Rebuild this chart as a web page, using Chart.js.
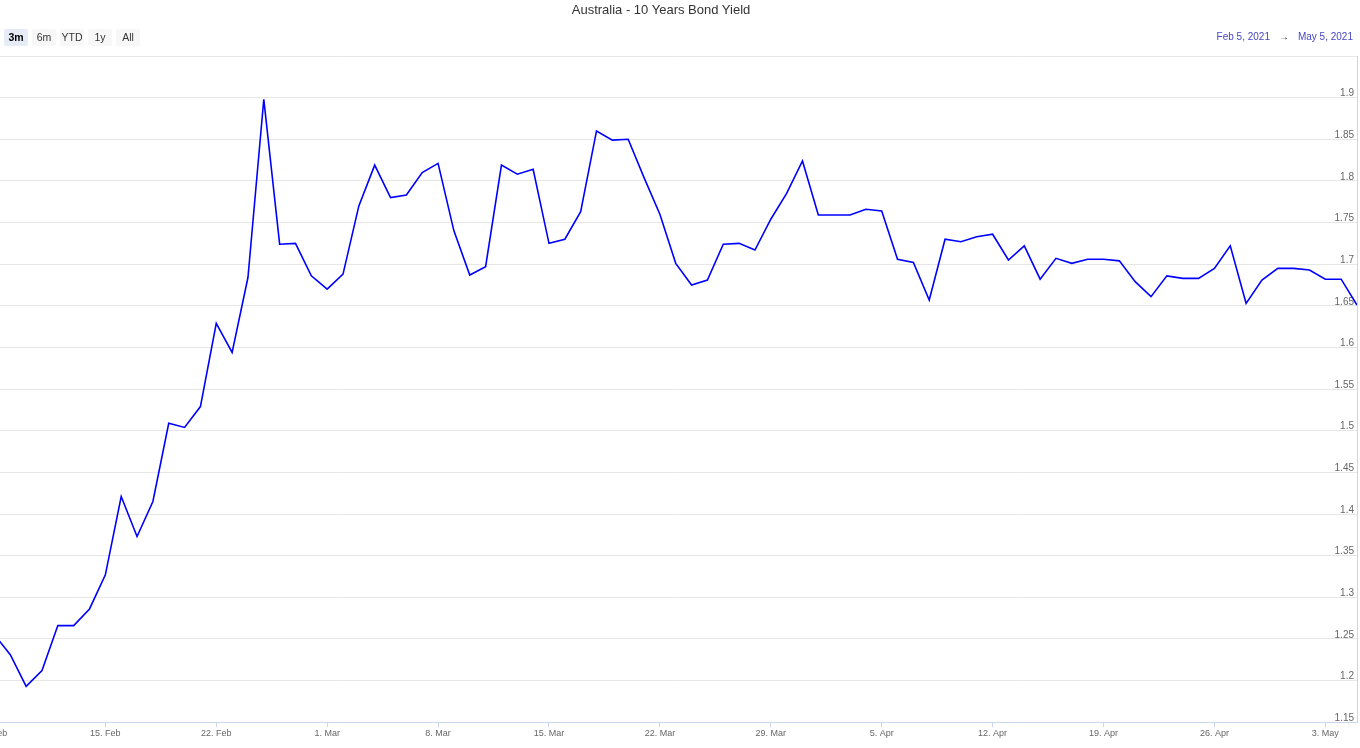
<!DOCTYPE html>
<html>
<head>
<meta charset="utf-8">
<title>Australia - 10 Years Bond Yield</title>
<script src="https://cdn.jsdelivr.net/npm/chart.js@4"></script>
<style>
  html, body { margin: 0; padding: 0; background: #fff; }
  body { width: 1360px; height: 748px; position: relative; overflow: hidden; font-family: "Liberation Sans", Arial, sans-serif; }
  #wrap { position: absolute; left: 0; top: 0; width: 1360px; height: 748px; }
  .title { position: absolute; left: 561px; width: 200px; top: 2px; text-align: center; font-size: 13px; color: #333; white-space: nowrap; }
  .ranges { position: absolute; left: 4px; top: 29px; display: flex; gap: 4px; }
  .ranges span { display: block; width: 24px; height: 17px; line-height: 17px; text-align: center; font-size: 10.5px; color: #333; background: #f7f7f7; border-radius: 2px; }
  .ranges span.on { background: #e6ebf5; color: #000; font-weight: bold; }
  .dates { position: absolute; right: 7px; top: 31px; font-size: 10px; color: #4646c4; white-space: nowrap; }
  .dates .arrow { color: #333; margin: 0 9px; }
</style>
</head>
<body>
<div id="wrap"><canvas id="chart"></canvas></div>
<div class="title" id="title"></div>
<div class="ranges">
  <span class="on">3m</span><span>6m</span><span>YTD</span><span>1y</span><span>All</span>
</div>
<div class="dates">Feb 5, 2021<span class="arrow">→</span>May 5, 2021</div>
<script>
const chartTitle = "Australia - 10 Years Bond Yield"

// one value per day, starting 8 Feb 2021 (index 0) up to 5 May 2021
const startDate = "2021-02-08"
const yields = [
  1.255, 1.231, 1.193, 1.212, 1.266, 1.266, 1.286,          // 8-14 Feb
  1.327, 1.421, 1.373, 1.415, 1.509, 1.504, 1.529,          // 15-21 Feb
  1.629, 1.594, 1.684, 1.898, 1.724, 1.725, 1.686,          // 22-28 Feb
  1.670, 1.688, 1.770, 1.819, 1.780, 1.783, 1.810,          // 1-7 Mar
  1.821, 1.740, 1.687, 1.697, 1.819, 1.808, 1.814,          // 8-14 Mar
  1.725, 1.730, 1.763, 1.860, 1.849, 1.850, 1.804,          // 15-21 Mar
  1.760, 1.701, 1.675, 1.681, 1.724, 1.725, 1.717,          // 22-28 Mar
  1.754, 1.785, 1.824, 1.759, 1.759, 1.759, 1.766,          // 29 Mar-4 Apr
  1.764, 1.706, 1.702, 1.657, 1.730, 1.727, 1.733,          // 5-11 Apr
  1.736, 1.705, 1.722, 1.682, 1.707, 1.701, 1.706,          // 12-18 Apr
  1.706, 1.704, 1.679, 1.661, 1.686, 1.683, 1.683,          // 19-25 Apr
  1.695, 1.722, 1.653, 1.681, 1.695, 1.695, 1.693,          // 26 Apr-2 May
  1.682, 1.682, 1.651                                       // 3-5 May
]

// weekly tick labels, on the Mondays (every 7th day from startDate)
const xTickLabels = ["8. Feb", "15. Feb", "22. Feb", "1. Mar", "8. Mar", "15. Mar", "22. Mar",
  "29. Mar", "5. Apr", "12. Apr", "19. Apr", "26. Apr", "3. May"]

const yMin = 1.15
const yMax = 1.95
const yStep = 0.05

document.getElementById("title").textContent = chartTitle

const points = yields.map((v, i) => ({ x: i, y: v }))

const ctx = document.getElementById("chart").getContext("2d")
const myChart = new Chart(ctx, {
  type: "line",
  data: {
    datasets: [
      {
        label: chartTitle,
        data: points,
        borderColor: "#0000ff",
        borderWidth: 1.6,
        pointRadius: 0,
        tension: 0,
        fill: false,
      },
    ],
  },
  options: {
    responsive: true,
    maintainAspectRatio: false,
    animation: false,
    layout: { padding: { top: 56, right: 3, bottom: 8, left: 0 } },
    plugins: {
      legend: { display: false },
      tooltip: { enabled: false },
      title: { display: false },
    },
    scales: {
      x: {
        type: "linear",
        min: 0.35,
        max: yields.length - 1,
        afterBuildTicks: (s) => { s.ticks = xTickLabels.map((l, i) => ({ value: i * 7 })) },
        afterFit: (s) => { s.paddingLeft = 0; s.paddingRight = 0 },
        grid: { drawOnChartArea: false, drawTicks: true, tickLength: 5, color: "#ccd6eb" },
        border: { display: true, color: "#ccd6eb" },
        ticks: {
          autoSkip: false,
          maxRotation: 0,
          padding: 1,
          color: "#666",
          font: { family: "'Liberation Sans', Arial, sans-serif", size: 9 },
          callback: (v) => xTickLabels[Math.round(v / 7)] || "",
        },
      },
      y: {
        position: "right",
        min: yMin,
        max: yMax,
        afterFit: (s) => { s.width = 0; s.paddingTop = 0; s.paddingBottom = 0 },
        grid: { color: "#e6e6e6", drawTicks: false },
        border: { display: true, color: "#ccd6eb" },
        ticks: {
          stepSize: yStep,
          mirror: true,
          padding: -3,
          labelOffset: -4,
          color: "#666",
          font: { family: "'Liberation Sans', Arial, sans-serif", size: 10 },
          callback: (v) => (v > yMax - 0.01 ? "" : String(Number(v.toFixed(2)))),
        },
      },
    },
  },
})
</script>
</body>
</html>
